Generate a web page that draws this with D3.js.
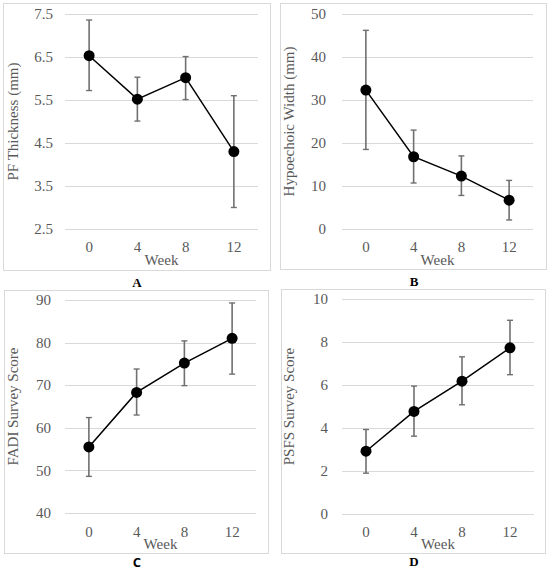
<!DOCTYPE html>
<html>
<head>
<meta charset="utf-8">
<script src="https://cdn.jsdelivr.net/npm/d3@7"></script>
<style>
  html, body { margin: 0; padding: 0; background: #fff; }
  svg { display: block; }
</style>
</head>
<body>
<svg id="chart" width="550" height="571"></svg>
<script>
// ---- data ----
const weeks = ["0", "4", "8", "12"];

const pfMean  = [6.53, 5.52, 6.02, 4.30];
const pfLow   = [5.72, 5.01, 5.51, 3.00];
const pfHigh  = [7.36, 6.03, 6.51, 5.60];
const pfTicks = [2.5, 3.5, 4.5, 5.5, 6.5, 7.5];

const hwMean  = [32.3, 16.8, 12.3, 6.7];
const hwLow   = [18.5, 10.7, 7.8, 2.1];
const hwHigh  = [46.2, 23.0, 17.0, 11.3];
const hwTicks = [0, 10, 20, 30, 40, 50];

const fadiMean  = [55.5, 68.3, 75.2, 81.0];
const fadiLow   = [48.6, 63.0, 69.9, 72.6];
const fadiHigh  = [62.4, 73.8, 80.4, 89.3];
const fadiTicks = [40, 50, 60, 70, 80, 90];

const psfsMean  = [2.92, 4.77, 6.18, 7.73];
const psfsLow   = [1.90, 3.62, 5.08, 6.48];
const psfsHigh  = [3.93, 5.95, 7.31, 9.01];
const psfsTicks = [0, 2, 4, 6, 8, 10];

const yTitles = ["PF Thickness (mm)", "Hypoechoic Width (mm)", "FADI Survey Score", "PSFS Survey Score"];
const panelLetters = ["A", "B", "C", "D"];
const xTitle = "Week";

// ---- layout ----
const panels = [
  { mean: pfMean, low: pfLow, high: pfHigh, ticks: pfTicks, fmt: d3.format(".1f"),
    box: [3, 3, 270, 270], px: [65, 258], py: [229, 14], tickRight: 53, titleX: 13,
    tickY: 252, weekY: 265, letterX: 137, letterY: 287, letterFont: "'Liberation Serif', serif" },
  { mean: hwMean, low: hwLow, high: hwHigh, ticks: hwTicks, fmt: d3.format("d"),
    box: [280, 3, 546, 269], px: [342, 533], py: [229, 14], tickRight: 326, titleX: 289,
    tickY: 252, weekY: 265, letterX: 414, letterY: 286, letterFont: "'Liberation Serif', serif" },
  { mean: fadiMean, low: fadiLow, high: fadiHigh, ticks: fadiTicks, fmt: d3.format("d"),
    box: [4, 290, 268, 553], px: [65, 256], py: [513, 300], tickRight: 51, titleX: 13,
    tickY: 537, weekY: 549, letterX: 137, letterY: 567, letterFont: "'Open Sans', sans-serif" },
  { mean: psfsMean, low: psfsLow, high: psfsHigh, ticks: psfsTicks, fmt: d3.format("d"),
    box: [281, 289, 545, 553], px: [342, 534], py: [514, 299], tickRight: 328, titleX: 289,
    tickY: 537, weekY: 549, letterX: 414, letterY: 566, letterFont: "'Liberation Serif', serif" }
];

const svg = d3.select("#chart");
const serif = "'Liberation Serif', 'Times New Roman', serif";
const textColor = "#595959";

panels.forEach((p, i) => {
  const g = svg.append("g");
  const [bx0, by0, bx1, by1] = p.box;

  g.append("rect")
    .attr("x", bx0 + 0.5).attr("y", by0 + 0.5)
    .attr("width", bx1 - bx0).attr("height", by1 - by0)
    .attr("fill", "#fff").attr("stroke", "#d9d9d9").attr("stroke-width", 1);

  const x = d3.scalePoint().domain(weeks).range(p.px).padding(0.5);
  const y = d3.scaleLinear().domain([p.ticks[0], p.ticks[p.ticks.length - 1]]).range(p.py);

  // gridlines
  g.selectAll(".grid").data(p.ticks).join("line")
    .attr("x1", p.px[0]).attr("x2", p.px[1])
    .attr("y1", d => Math.round(y(d)) + 0.5).attr("y2", d => Math.round(y(d)) + 0.5)
    .attr("stroke", "#d9d9d9").attr("stroke-width", 1);

  // y tick labels
  g.selectAll(".ytl").data(p.ticks).join("text")
    .attr("x", p.tickRight).attr("y", d => y(d)).attr("dy", "0.35em")
    .attr("text-anchor", "end")
    .attr("font-family", serif).attr("font-size", 15).attr("fill", textColor)
    .text(d => p.fmt(d));

  // x tick labels
  g.selectAll(".xtl").data(weeks).join("text")
    .attr("x", d => x(d)).attr("y", p.tickY)
    .attr("text-anchor", "middle")
    .attr("font-family", serif).attr("font-size", 15).attr("fill", textColor)
    .text(d => d);

  // x title
  g.append("text")
    .attr("x", (p.px[0] + p.px[1]) / 2).attr("y", p.weekY)
    .attr("text-anchor", "middle")
    .attr("font-family", serif).attr("font-size", 15).attr("fill", textColor)
    .text(xTitle);

  // y title
  const cy = (p.py[0] + p.py[1]) / 2;
  g.append("text")
    .attr("transform", `translate(${p.titleX},${cy}) rotate(-90)`)
    .attr("dy", "0.35em")
    .attr("text-anchor", "middle")
    .attr("font-family", serif).attr("font-size", 15).attr("fill", textColor)
    .text(yTitles[i]);

  // error bars
  const idx = d3.range(weeks.length);
  g.selectAll(".eb").data(idx).join("line")
    .attr("x1", k => x(weeks[k])).attr("x2", k => x(weeks[k]))
    .attr("y1", k => y(p.low[k])).attr("y2", k => y(p.high[k]))
    .attr("stroke", "#707070").attr("stroke-width", 1.6);
  ["low", "high"].forEach(key => {
    g.selectAll(".cap-" + key).data(idx).join("line")
      .attr("x1", k => x(weeks[k]) - 3).attr("x2", k => x(weeks[k]) + 3)
      .attr("y1", k => y(p[key][k])).attr("y2", k => y(p[key][k]))
      .attr("stroke", "#707070").attr("stroke-width", 1.4);
  });

  // line
  const line = d3.line().x(k => x(weeks[k])).y(k => y(p.mean[k]));
  g.append("path").datum(idx)
    .attr("d", line).attr("fill", "none")
    .attr("stroke", "#000").attr("stroke-width", 1.5);

  // markers
  g.selectAll(".pt").data(idx).join("circle")
    .attr("cx", k => x(weeks[k])).attr("cy", k => y(p.mean[k]))
    .attr("r", 5.5).attr("fill", "#000");

  // panel letter
  svg.append("text")
    .attr("x", p.letterX).attr("y", p.letterY)
    .attr("text-anchor", "middle")
    .attr("font-family", p.letterFont).attr("font-weight", "bold")
    .attr("font-size", 13).attr("fill", "#000")
    .text(panelLetters[i]);
});
</script>
</body>
</html>
